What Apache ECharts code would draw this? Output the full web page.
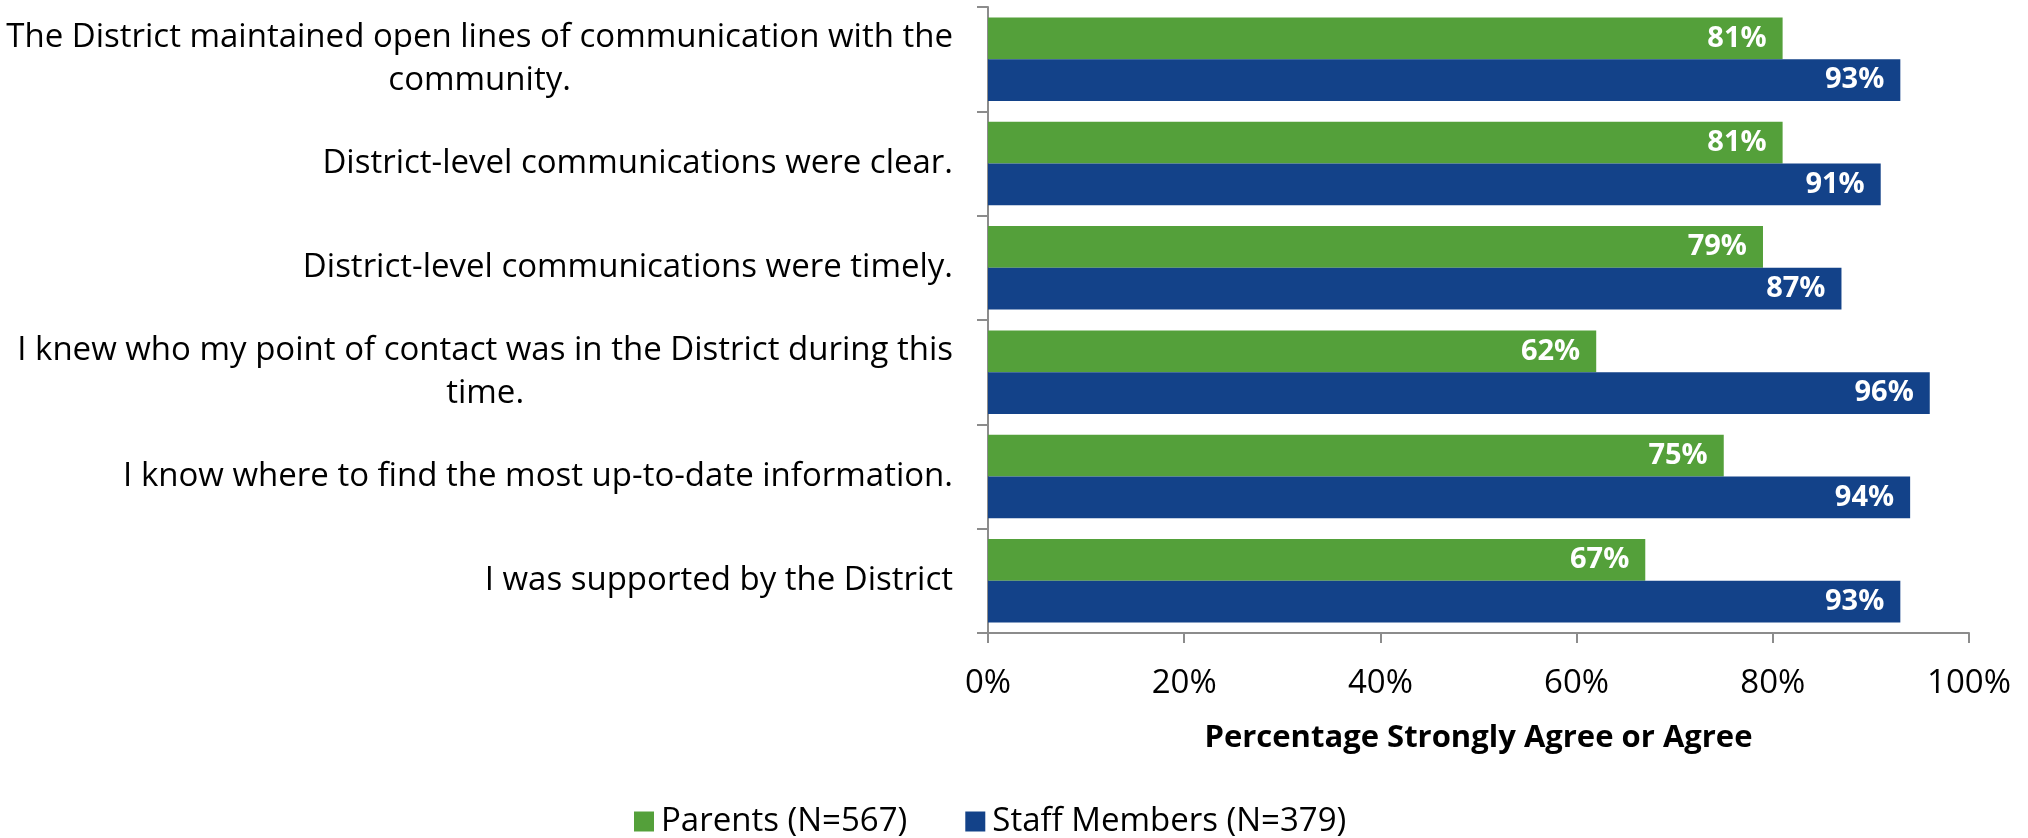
<!DOCTYPE html>
<html>
<head>
<meta charset="utf-8">
<script src="https://cdn.jsdelivr.net/npm/echarts@6/dist/echarts.min.js"></script>
<style>
  html, body { margin: 0; padding: 0; background: #fff; }
  #main { width: 2028px; height: 838px; }
</style>
</head>
<body>
<div id="main"></div>
<script>
var categories = [
    'The District maintained open lines of communication with the community.',
    'District-level communications were clear.',
    'District-level communications were timely.',
    'I knew who my point of contact was in the District during this time.',
    'I know where to find the most up-to-date information.',
    'I was supported by the District'
];
var parents = [81, 81, 79, 62, 75, 67];
var staff = [93, 91, 87, 96, 94, 93];
var seriesNames = ['Parents (N=567)', 'Staff Members (N=379)'];
var xTicks = [0, 20, 40, 60, 80, 100];

var FONT = 'Open Sans';
var GREEN = '#54A03A';
var BLUE = '#134289';
var AXIS = '#8c8c8c';

// wrap long labels like the original (lines centred, block right aligned)
function wrap(text, maxLen) {
    var words = text.split(' ');
    var lines = [];
    var cur = '';
    for (var i = 0; i < words.length; i++) {
        var t = cur ? cur + ' ' + words[i] : words[i];
        if (t.length > maxLen && cur) {
            lines.push(cur);
            cur = words[i];
        } else {
            cur = t;
        }
    }
    lines.push(cur);
    return lines;
}

function barSeries(name, data, color) {
    return {
        name: name,
        type: 'bar',
        data: data,
        barCategoryGap: '20%',
        barGap: '0%',
        itemStyle: { color: color },
        label: {
            show: true,
            position: 'insideRight',
            distance: 16,
            formatter: '{c}%',
            color: '#fff',
            fontFamily: FONT,
            fontWeight: 'bold',
            fontSize: 29
        }
    };
}

var myChart = echarts.init(document.getElementById('main'), null, { renderer: 'canvas' });

var option = {
    animation: false,
    backgroundColor: '#fff',
    grid: { left: 988, right: 59, top: 7, bottom: 205, containLabel: false },
    xAxis: {
        type: 'value',
        min: xTicks[0],
        max: xTicks[xTicks.length - 1],
        interval: 20,
        name: 'Percentage Strongly Agree or Agree',
        nameLocation: 'middle',
        nameGap: 90,
        nameTextStyle: { fontFamily: FONT, fontWeight: 'bold', fontSize: 31, color: '#000' },
        axisLine: { show: true, lineStyle: { color: AXIS, width: 2 } },
        axisTick: { show: true, length: 10, lineStyle: { color: AXIS, width: 2 } },
        axisLabel: {
            margin: 34,
            fontFamily: FONT,
            fontSize: 33,
            color: '#000',
            formatter: '{value}%'
        },
        splitLine: { show: false }
    },
    yAxis: {
        type: 'category',
        data: categories,
        inverse: true,
        axisLine: { show: true, lineStyle: { color: AXIS, width: 2 } },
        axisTick: { show: true, length: 11, lineStyle: { color: AXIS, width: 2 } },
        axisLabel: {
            margin: 35,
            formatter: function (v) {
                return wrap(v, 62).map(function (l) { return '{c|' + l + '}'; }).join('\n');
            },
            rich: {
                c: { align: 'center', fontFamily: FONT, fontSize: 33, color: '#000', lineHeight: 43 }
            }
        }
    },
    legend: {
        data: seriesNames,
        left: 629,
        top: 800,
        itemWidth: 20,
        itemHeight: 20,
        itemGap: 58,
        icon: 'rect',
        textStyle: { fontFamily: FONT, fontSize: 33, color: '#000', padding: [0, 0, 0, 2] }
    },
    series: [
        barSeries(seriesNames[0], parents, GREEN),
        barSeries(seriesNames[1], staff, BLUE)
    ]
};

myChart.setOption(option);
</script>
</body>
</html>
